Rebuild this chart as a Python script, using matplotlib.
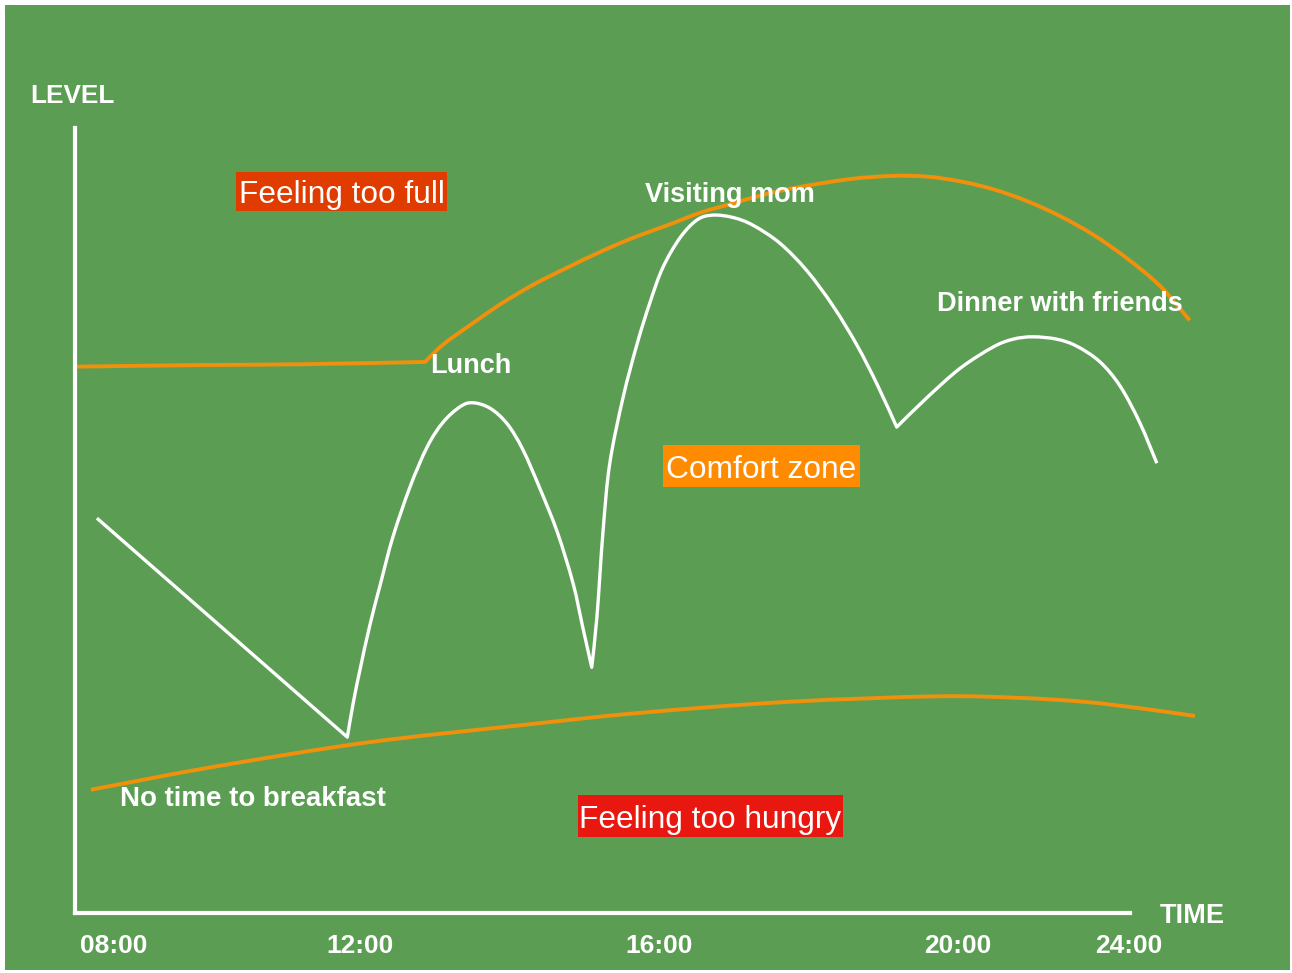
import matplotlib.pyplot as plt
import numpy as np
from matplotlib.patches import Rectangle, PathPatch
from matplotlib.path import Path

W, H = 1292, 973
GREEN = '#5b9e53'
ORANGE = '#f0900c'

# white line: my hunger level over the day (x in hours, y in level 0-100)
level_x = [8.48, 11.83, 11.91, 12.00, 12.13, 12.27, 12.44, 12.67, 12.90, 13.11,
           13.34, 13.51, 13.74, 13.97, 14.18, 14.41, 14.64, 14.85, 14.98, 15.10,
           15.17, 15.25, 15.34, 15.52, 15.71, 15.88, 16.05, 16.28, 16.51, 16.72,
           16.99, 17.26, 17.62, 17.98, 18.33, 18.65, 18.92, 19.18, 19.59, 20.03,
           20.47, 20.74, 21.00, 21.32, 21.59, 21.90, 22.17, 22.43, 22.66]
level_y = [50.3, 22.4, 26.8, 31.0, 36.6, 41.8, 47.9, 54.3, 59.4, 62.5,
           64.5, 65.0, 64.3, 62.3, 59.0, 54.0, 48.5, 42.0, 36.4, 31.3,
           37.8, 48.5, 57.2, 65.7, 72.6, 77.8, 82.2, 86.0, 88.3, 88.9,
           88.6, 87.6, 85.3, 81.8, 77.3, 72.3, 67.3, 61.9, 65.7, 69.4,
           72.1, 73.1, 73.4, 73.1, 72.2, 70.2, 67.1, 62.5, 57.3]
level_corners = [0, 1, 19, 37, 48]   # sharp points: start, meals, end

# upper orange bound: "too full"
full_x = [8.21, 9.86, 11.20, 12.87, 13.11, 13.43, 13.87, 14.31, 14.77, 15.21,
          15.65, 16.11, 16.55, 16.99, 17.44, 17.89, 18.56, 19.13, 19.59, 20.03,
          20.47, 20.92, 21.36, 21.81, 22.26, 22.70, 23.10]
full_y = [69.6, 69.8, 69.9, 70.2, 72.4, 74.6, 77.5, 80.0, 82.2, 84.2,
          86.0, 87.6, 89.2, 90.4, 91.6, 92.5, 93.5, 93.9, 93.8, 93.2,
          92.2, 90.7, 88.8, 86.4, 83.4, 79.9, 75.5]
full_corners = [0, 3, 26]

# lower orange bound: "too hungry"
hungry_x = [8.40, 10.03, 12.08, 14.13, 15.75, 17.73, 19.71, 20.83, 21.69, 22.42, 23.17]
hungry_y = [15.7, 18.6, 21.7, 23.9, 25.5, 26.9, 27.6, 27.4, 26.9, 26.1, 25.1]
hungry_corners = [0, 10]

tick_pos = [8.70, 12, 16, 20, 22.29]
tick_labels = ['08:00', '12:00', '16:00', '20:00', '24:00']


def smooth_path(xs, ys, corners):
    # catmull-rom through the read points, kept sharp at the corners
    pts = np.column_stack([xs, ys])
    verts = [pts[0]]
    codes = [Path.MOVETO]
    for a, b in zip(corners[:-1], corners[1:]):
        seg = pts[a:b + 1]
        ext = np.vstack([seg[0], seg, seg[-1]])
        for i in range(1, len(ext) - 2):
            p0, p1, p2, p3 = ext[i - 1], ext[i], ext[i + 1], ext[i + 2]
            verts += [p1 + (p2 - p0) / 6, p2 - (p3 - p1) / 6, p2]
            codes += [Path.CURVE4] * 3
    return Path(verts, codes)


plt.rcParams['font.family'] = ['Liberation Sans', 'DejaVu Sans']

fig = plt.figure(figsize=(W / 100, H / 100), dpi=100)
fig.patch.set_facecolor('white')
fig.add_artist(Rectangle((5 / W, 1 - 970 / H), 1285 / W, 965 / H,
                         transform=fig.transFigure, fc=GREEN, ec='none', zorder=0))

ax = fig.add_axes([75 / W, 60 / H, 1055 / W, 785 / H])
ax.set_facecolor('none')
ax.set_xlim(8.187, 22.301)
ax.set_ylim(0, 100)

for s in ['top', 'right']:
    ax.spines[s].set_visible(False)
for s in ['left', 'bottom']:
    ax.spines[s].set_color('white')
    ax.spines[s].set_linewidth(3)

ax.set_yticks([])
ax.set_xticks(tick_pos, tick_labels)
ax.tick_params(axis='x', length=0, pad=15, labelcolor='white', labelsize=19)
for t in ax.get_xticklabels():
    t.set_fontweight('bold')

for xs, ys, cs, col, lw in [(full_x, full_y, full_corners, ORANGE, 2.8),
                            (hungry_x, hungry_y, hungry_corners, ORANGE, 2.8),
                            (level_x, level_y, level_corners, 'white', 2.4)]:
    ax.add_patch(PathPatch(smooth_path(xs, ys, cs), fill=False, ec=col, lw=lw,
                           clip_on=False, joinstyle='round', capstyle='butt'))


def ftext(px, py, s, **kw):
    fig.text(px / W, 1 - py / H, s, color='white', **kw)


def box(x0, y0, x1, y1, col):
    fig.add_artist(Rectangle((x0 / W, 1 - y1 / H), (x1 - x0) / W, (y1 - y0) / H,
                             transform=fig.transFigure, fc=col, ec='none', zorder=1))


bold = dict(fontsize=19.5, fontweight='bold', va='baseline', ha='left')
ftext(30, 103, 'LEVEL', **dict(bold, fontsize=18.8))
ftext(1160, 923, 'TIME', **bold)
ftext(430, 373, 'Lunch', **bold)
ftext(645, 202, 'Visiting mom', **bold)
ftext(937, 311, 'Dinner with friends', **bold)
ftext(120, 806, 'No time to breakfast', **dict(bold, fontsize=19.9))

boxed = dict(fontsize=22.8, ha='center', va='baseline', zorder=3)
box(236, 172, 447, 211, '#e03c00')
ftext(341.5, 203, 'Feeling too full', **boxed)
box(663, 445, 860, 487, '#ff8c00')
ftext(761.5, 478, 'Comfort zone', **boxed)
box(578, 795, 843, 837, '#e8170f')
ftext(710.5, 828, 'Feeling too hungry', **boxed)

fig.savefig('out.png', dpi=100, facecolor=fig.get_facecolor())
